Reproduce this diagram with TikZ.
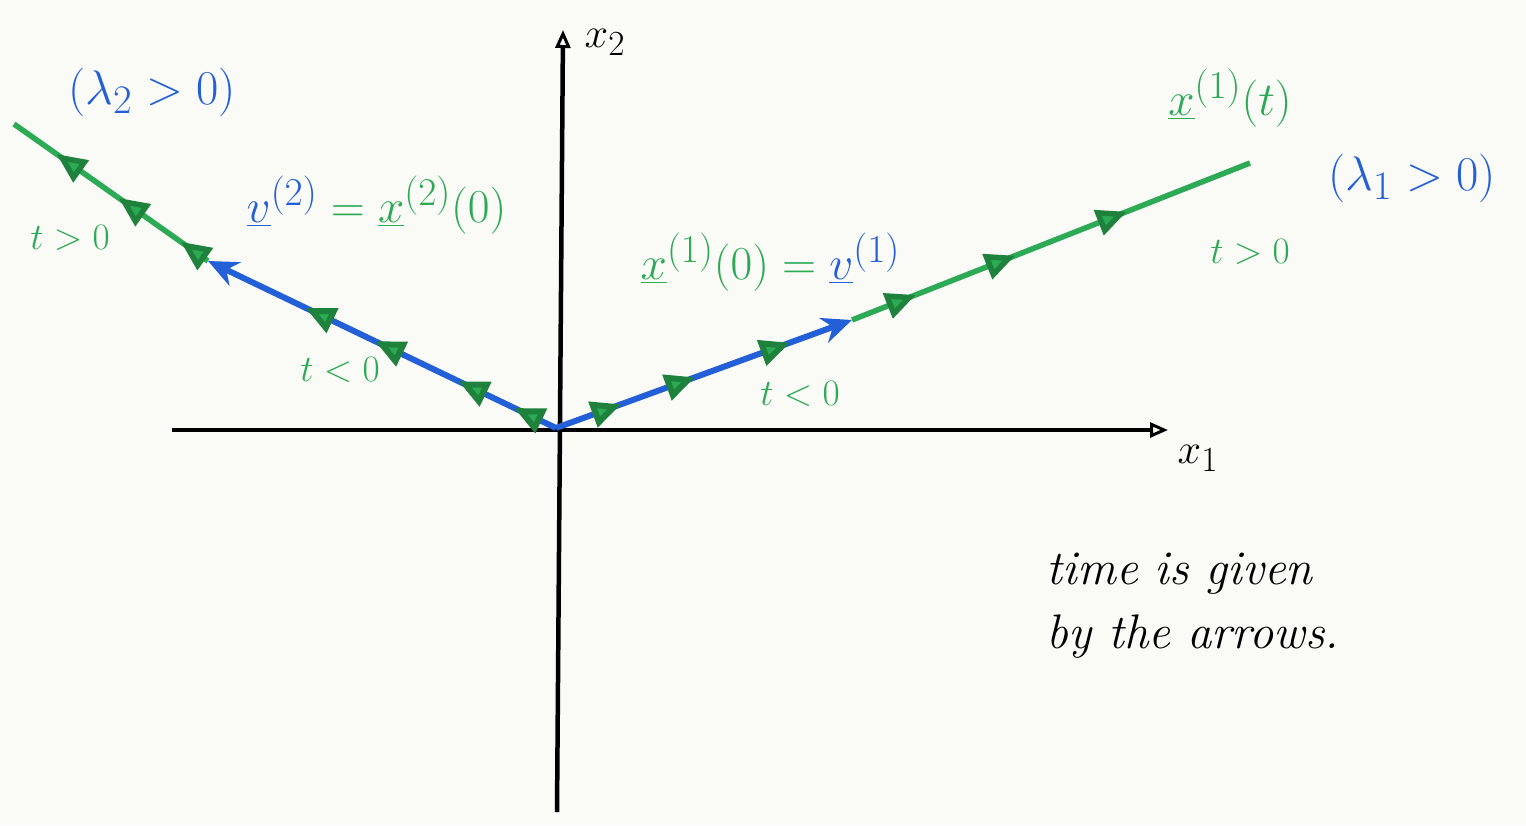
\documentclass[tikz,border=0pt]{standalone}
\usetikzlibrary{arrows.meta,decorations.markings}
\definecolor{penblue}{RGB}{35,95,215}
\definecolor{pengreen}{RGB}{45,170,85}
\definecolor{pengreendk}{RGB}{30,130,60}
\definecolor{paper}{RGB}{250,250,247}
\tikzset{
  axisline/.style={line width=4.5pt, black, -{Triangle[open,length=18pt,width=15pt,line width=3pt]}},
  vecline/.style={line width=6pt, penblue, -{Stealth[length=30pt,width=26pt]}},
  trajline/.style={line width=5.5pt, pengreen},
  flowtip/.tip={Triangle[length=30pt,width=26pt,color=pengreendk,fill=pengreen]},
  bluelabel/.style={text=penblue, font=\Huge, scale=1.95},
  greenlabel/.style={text=pengreen, font=\Huge, scale=1.9},
  tlabel/.style={text=pengreen, font=\Huge, scale=1.5},
  notelabel/.style={text=black, font=\Huge\itshape, align=left, scale=1.95},
  axislabel/.style={text=black, font=\Huge, scale=1.7}
}
\begin{document}
\begin{tikzpicture}[x=1pt,y=-1pt]
\fill[paper] (0,0) rectangle (1526,825);
\useasboundingbox (0,0) rectangle (1526,825);
% coordinates
\coordinate (O) at (556,428);
\coordinate (XL) at (172,430);
\coordinate (XR) at (1168,430);
\coordinate (YB) at (557,812);
\coordinate (YT) at (563,30);
\coordinate (P1) at (852,320);
\coordinate (E1) at (1250,163);
\coordinate (P2) at (208,261);
\coordinate (E2) at (14,124);
% axes
\draw[axisline] (XL) -- (XR);
\draw[axisline] (YB) -- (YT);
\node[axislabel] (x1) at (1198,458) {$x_1$};
\node[axislabel] (x2) at (605,42) {$x_2$};
% right trajectory
\draw[trajline, postaction={decorate}, decoration={markings,
   mark=at position 0.16 with {\arrow{flowtip}},
   mark=at position 0.41 with {\arrow{flowtip}},
   mark=at position 0.69 with {\arrow{flowtip}}}] (P1) -- (E1);
\draw[vecline, postaction={decorate}, decoration={markings,
   mark=at position 0.22 with {\arrow{flowtip}},
   mark=at position 0.47 with {\arrow{flowtip}},
   mark=at position 0.79 with {\arrow{flowtip}}}] (O) -- (P1);
% left trajectory
\draw[trajline, postaction={decorate}, decoration={markings,
   mark=at position 0.14 with {\arrow{flowtip}},
   mark=at position 0.46 with {\arrow{flowtip}},
   mark=at position 0.78 with {\arrow{flowtip}}}] (P2) -- (E2);
\draw[vecline, postaction={decorate}, decoration={markings,
   mark=at position 0.12 with {\arrow{flowtip}},
   mark=at position 0.28 with {\arrow{flowtip}},
   mark=at position 0.52 with {\arrow{flowtip}},
   mark=at position 0.72 with {\arrow{flowtip}}}] (O) -- (P2);
% labels
\node[bluelabel] (lam2) at (152,92) {$(\lambda_2>0)$};
\node[bluelabel] (lam1) at (1412,178) {$(\lambda_1>0)$};
\node[tlabel] (tpl) at (70,238) {$t>0$};
\node[tlabel] (tml) at (340,370) {$t<0$};
\node[tlabel] (tmr) at (800,394) {$t<0$};
\node[tlabel] (tpr) at (1250,252) {$t>0$};
\node[greenlabel, anchor=west] (eq2) at (240,205) {$\textcolor{penblue}{\underline{v}^{(2)}}=\underline{x}^{(2)}(0)$};
\node[greenlabel, anchor=west] (eq1) at (634,262) {$\underline{x}^{(1)}(0)=\textcolor{penblue}{\underline{v}^{(1)}}$};
\node[greenlabel] (xt) at (1230,98) {$\underline{x}^{(1)}(t)$};
\node[notelabel, anchor=north west] (note) at (1040,546) {time is given\\[3pt]by the arrows.};
\end{tikzpicture}
\end{document}
